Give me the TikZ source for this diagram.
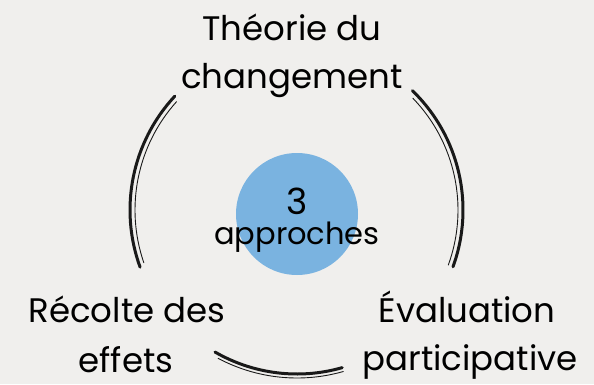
\documentclass[tikz,border=0pt]{standalone}
\usepackage{fontspec}
\setmainfont{Poppins}
\begin{document}
\begin{tikzpicture}[x=1pt,y=1pt,
  lbl/.style={anchor=base,font=\fontsize{34}{40}\selectfont,inner sep=0pt},
  arcthick/.style={line width=3pt,black!90,line cap=round},
  arcthin/.style={line width=0.9pt,black!90,line cap=round}]
\fill[fill={rgb,255:red,240;green,239;blue,237}] (0,0) rectangle (594,384);
\useasboundingbox (0,0) rectangle (594,384);
\coordinate (c) at (297,174);
% blue circle
\node[circle,fill={rgb,255:red,122;green,179;blue,224},minimum size=122pt,inner sep=0pt] (hub) at (297,170) {};
\node[lbl,font=\fontsize{36}{40}\selectfont] (three) at (297,170) {3};
\node[lbl,font=\fontsize{30.5}{40}\selectfont] (appr) at (297,140) {approches};
% arcs
\draw[arcthick] ([shift={(137:167)}]c) arc[start angle=137,end angle=200,radius=167];
\draw[arcthin] ([shift={(138:162)}]c) arc[start angle=138,end angle=199,radius=162];
\draw[arcthick] ([shift={(46:166)}]c) arc[start angle=46,end angle=-20,radius=166];
\draw[arcthin] ([shift={(44:161)}]c) arc[start angle=44,end angle=-20,radius=161];
\draw[arcthick] ([shift={(240:164)}]c) arc[start angle=240,end angle=286,radius=164];
\draw[arcthin] ([shift={(242:168)}]c) arc[start angle=242,end angle=286,radius=168];
% labels
\node[lbl] (top1) at (292,344) {Théorie du};
\node[lbl] (top2) at (292,296) {changement};
\node[lbl] (left1) at (127,62) {Récolte des};
\node[lbl] (left2) at (126,12) {effets};
\node[lbl] (right1) at (467,62) {Évaluation};
\node[lbl] (right2) at (470,14) {participative};
\end{tikzpicture}
\end{document}
